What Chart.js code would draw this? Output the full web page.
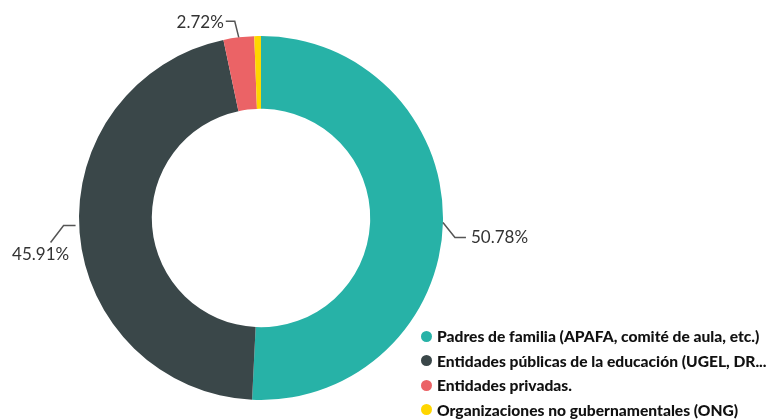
<!DOCTYPE html>
<html>
<head>
<meta charset="utf-8">
<script src="https://cdn.jsdelivr.net/npm/chart.js@4.4.1/dist/chart.umd.min.js"></script>
<style>
    html, body { margin: 0; padding: 0; background: #fff; }
    #wrap { position: relative; width: 768px; height: 420px; }
    #legend {
        position: absolute;
        left: 421px;
        top: 324px;
        font-family: Lato, "Noto Sans", sans-serif;
        font-weight: 900;
        font-size: 15.6px;
        color: #111;
    }
    .row { display: flex; align-items: center; height: 24.5px; white-space: nowrap; }
    .dot { width: 11px; height: 11px; border-radius: 50%; margin-right: 5px; }
</style>
</head>
<body>
<div id="wrap">
    <canvas id="shareChart" width="768" height="420"></canvas>
    <div id="legend"></div>
</div>
<script>
const categories = [
    'Padres de familia (APAFA, comité de aula, etc.)',
    'Entidades públicas de la educación (UGEL, DR...',
    'Entidades privadas.',
    'Organizaciones no gubernamentales (ONG)'
];
const shares = [50.78, 45.91, 2.72, 0.59];
const sliceColors = ['#27b2a7', '#3a4749', '#eb6366', '#ffd600'];

// Percent labels with bent leader lines, skipping slivers too thin to label
const leaderLabels = {
    id: 'leaderLabels',
    afterDatasetsDraw(chart) {
        const ctx = chart.ctx;
        const arcs = chart.getDatasetMeta(0).data;
        ctx.save();
        ctx.strokeStyle = '#555';
        ctx.lineWidth = 1.5;
        ctx.fillStyle = '#333';
        ctx.font = '17px Lato, "Noto Sans", sans-serif';
        ctx.textBaseline = 'middle';

        arcs.forEach((arc, i) => {
            if (shares[i] < 1) return;
            const mid = (arc.startAngle + arc.endAngle) / 2;
            const ax = arc.x + Math.cos(mid) * arc.outerRadius;
            const ay = arc.y + Math.sin(mid) * arc.outerRadius;
            const text = shares[i].toFixed(2) + '%';
            let pts, tx, ty;

            if (Math.cos(mid) > 0.3) {
                pts = [[ax, ay], [ax + 12, ay + 15], [ax + 23, ay + 15]];
                tx = ax + 28; ty = ay + 15;
                ctx.textAlign = 'left';
            } else if (Math.sin(mid) < -0.9) {
                pts = [[ax, ay], [ax - 4, ay - 16], [ax - 13, ay - 16]];
                tx = ax - 15; ty = ay - 15;
                ctx.textAlign = 'right';
            } else {
                pts = [[ax - 4, ay - 7], [ax - 16, ay - 7], [ax - 29, ay + 10]];
                tx = ax - 39; ty = ay + 22;
                ctx.textAlign = 'center';
            }

            ctx.beginPath();
            ctx.moveTo(pts[0][0], pts[0][1]);
            for (let k = 1; k < pts.length; k++) ctx.lineTo(pts[k][0], pts[k][1]);
            ctx.stroke();
            ctx.fillText(text, tx, ty);
        });
        ctx.restore();
    }
};

const ctx = document.getElementById('shareChart').getContext('2d');
const shareChart = new Chart(ctx, {
    type: 'doughnut',
    data: {
        labels: categories,
        datasets: [{
            data: shares,
            backgroundColor: sliceColors,
            borderWidth: 0
        }]
    },
    options: {
        responsive: false,
        animation: false,
        devicePixelRatio: 1,
        cutout: '60%',
        layout: {
            padding: { top: 36, bottom: 20, left: 79, right: 325 }
        },
        plugins: {
            legend: { display: false },
            tooltip: { enabled: false }
        }
    },
    plugins: [leaderLabels]
});

// Legend built from the same arrays
const legend = document.getElementById('legend');
categories.forEach((name, i) => {
    const row = document.createElement('div');
    row.className = 'row';
    const dot = document.createElement('span');
    dot.className = 'dot';
    dot.style.background = sliceColors[i];
    const label = document.createElement('span');
    label.textContent = name;
    row.appendChild(dot);
    row.appendChild(label);
    legend.appendChild(row);
});
</script>
</body>
</html>
